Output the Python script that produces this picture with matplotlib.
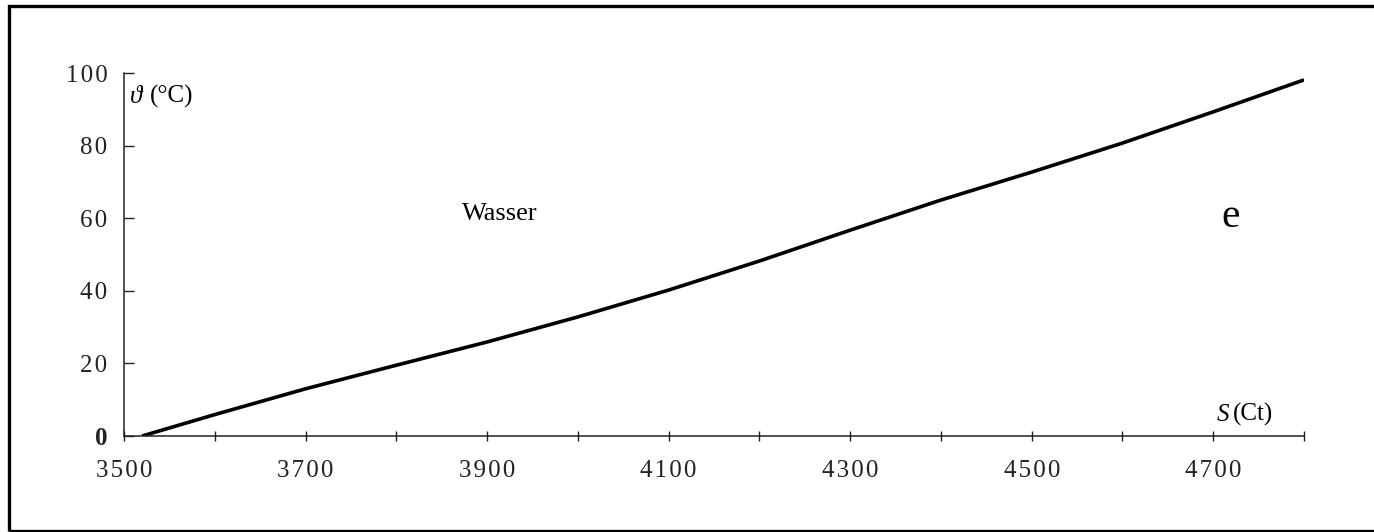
import matplotlib.pyplot as plt
from matplotlib.patches import Rectangle

# water line: S (Ct) vs theta (degC)
s_values = [3520, 3600, 3700, 3800, 3900, 4000, 4100, 4200, 4300, 4400, 4500, 4600, 4700, 4800]
theta_values = [0, 5.9, 13.0, 19.5, 25.9, 32.8, 40.2, 48.2, 56.7, 65.0, 72.7, 80.7, 89.3, 98.1]

x_ticks = [3500, 3600, 3700, 3800, 3900, 4000, 4100, 4200, 4300, 4400, 4500, 4600, 4700, 4800]
x_tick_labels = ['3500', '', '3700', '', '3900', '', '4100', '', '4300', '', '4500', '', '4700', '']
y_ticks = [0, 20, 40, 60, 80, 100]
y_tick_labels = ['0', '20', '40', '60', '80', '100']

SERIF = ['Liberation Serif', 'DejaVu Serif']
SP = '\u200a'  # hair space, spreads the digits a little like the original


def spaced(txt):
    return SP.join(txt)


plt.rcParams['font.family'] = SERIF

fig = plt.figure(figsize=(13.74, 5.32), dpi=100)
ax = fig.add_axes([124 / 1374, 1 - 436 / 532, (1304 - 124) / 1374, (436 - 73) / 532])

ax.plot(s_values, theta_values, color='black', lw=2.6, solid_capstyle='butt')

ax.set_xlim(3500, 4800)
ax.set_ylim(0, 100)

for side in ['top', 'right']:
    ax.spines[side].set_visible(False)
for side in ['left', 'bottom']:
    ax.spines[side].set_linewidth(1.1)
    ax.spines[side].set_color('#222222')

ax.set_xticks(x_ticks)
ax.set_xticklabels([spaced(t) for t in x_tick_labels])
ax.set_yticks(y_ticks)
ax.set_yticklabels([spaced(t) for t in y_tick_labels])
ax.tick_params(axis='x', direction='inout', length=7, width=1.0, pad=14,
               labelsize=18, colors='#222222')
ax.tick_params(axis='y', direction='in', length=7, width=1.0, pad=12,
               labelsize=18, colors='#222222')
ax.get_yticklabels()[0].set_fontweight('bold')

# axis labels placed at the axis ends
ax.text(0.005, 0.935, '\u03d1', transform=ax.transAxes, fontsize=18,
        style='italic', family=SERIF, va='center', ha='left')
ax.text(0.022, 0.935, '(\u00b0C)', transform=ax.transAxes, fontsize=18,
        family=SERIF, va='center', ha='left')
ax.text(0.926, 0.058, 'S', transform=ax.transAxes, fontsize=18,
        style='italic', family=SERIF, va='center', ha='left')
ax.text(0.940, 0.058, '(Ct)', transform=ax.transAxes, fontsize=18,
        family=SERIF, va='center', ha='left')

ax.text(0.286, 0.611, 'Wasser', transform=ax.transAxes, fontsize=19,
        family=SERIF, va='center', ha='left')
ax.text(0.930, 0.605, 'e', transform=ax.transAxes, fontsize=30,
        family=SERIF, va='center', ha='left')

# frame around the whole picture (cut off at the right edge)
fig.patches.append(Rectangle((9 / 1374, 1.5 / 532), 1.1, (532 - 7) / 532,
                             transform=fig.transFigure, fill=False,
                             edgecolor='black', lw=2.4, clip_on=False))

fig.savefig('out.png', dpi=100)
